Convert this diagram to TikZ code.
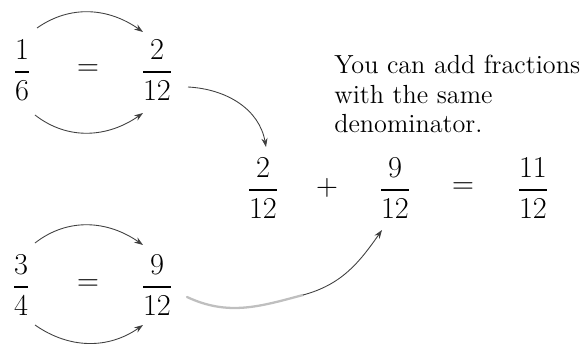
\documentclass[tikz,border=0pt]{standalone}
\usepackage{amsmath}
\usepackage{tikz}
\usetikzlibrary{positioning,arrows.meta,calc}

\begin{document}
\begin{tikzpicture}[
  x=0.02cm, y=-0.02cm,
  >={Stealth[length=5pt,width=3.5pt]},
  frac/.style={inner sep=1pt, font=\fontsize{17.5}{21}\selectfont},
  sym/.style={inner sep=1pt, font=\fontsize{17.5}{21}\selectfont},
  note/.style={inner sep=0pt, align=left, font=\fontsize{14.9}{16.8}\selectfont},
  arr/.style={->, line width=0.5pt, color=black!75},
  faint/.style={line width=1.3pt, color=black!25, line cap=round},
]
\useasboundingbox (0,0) rectangle (584,344);

% === Row 1: 1/6 = 2/12 ===
\node[frac] (oneSixth) at (22,70) {$\dfrac{1}{6}$};
\node[sym] (eqA) at (88,70) {$=$};
\node[frac] (twoTwelfthsA) at (157,70) {$\dfrac{2}{12}$};

% === Row 2: 3/4 = 9/12 ===
\node[frac] (threeFourths) at (21,285) {$\dfrac{3}{4}$};
\node[sym] (eqB) at (88,285) {$=$};
\node[frac] (nineTwelfthsA) at (157,285) {$\dfrac{9}{12}$};

% === Sum: 2/12 + 9/12 = 11/12 ===
\node[frac] (twoTwelfthsB) at (263,188) {$\dfrac{2}{12}$};
\node[sym] (plus) at (327,188) {$+$};
\node[frac] (nineTwelfthsB) at (395,188) {$\dfrac{9}{12}$};
\node[sym] (eqC) at (463,188) {$=$};
\node[frac] (elevenTwelfths) at (533,188) {$\dfrac{11}{12}$};

% note
\node[note, anchor=north west] (note) at (334,55) {You can add fractions\\with the same\\denominator.};

% === multiply arrows ===
\draw[arr] ([shift={(15,-42)}]oneSixth.center) to[out=35, in=145] ([shift={(-14,-38)}]twoTwelfthsA.center);
\draw[arr] ([shift={(13,45)}]oneSixth.center) to[out=-38, in=-145] ([shift={(-14,43)}]twoTwelfthsA.center);
\draw[arr] ([shift={(14,-42)}]threeFourths.center) to[out=38, in=145] ([shift={(-14,-40)}]nineTwelfthsA.center);
\draw[arr] ([shift={(14,40)}]threeFourths.center) to[out=-35, in=-145] ([shift={(-14,40)}]nineTwelfthsA.center);

% === carry arrows ===
\draw[arr] ([shift={(31,17)}]twoTwelfthsA.center) to[out=-3, in=100] ([shift={(3,-41)}]twoTwelfthsB.center);
\coordinate (bend) at (303,295);
\draw[faint] ([shift={(30,12)}]nineTwelfthsA.center) to[out=-25, in=195] (bend);
\draw[arr] (bend) to[out=15, in=-125] ([shift={(-13,42)}]nineTwelfthsB.center);

\end{tikzpicture}
\end{document}
